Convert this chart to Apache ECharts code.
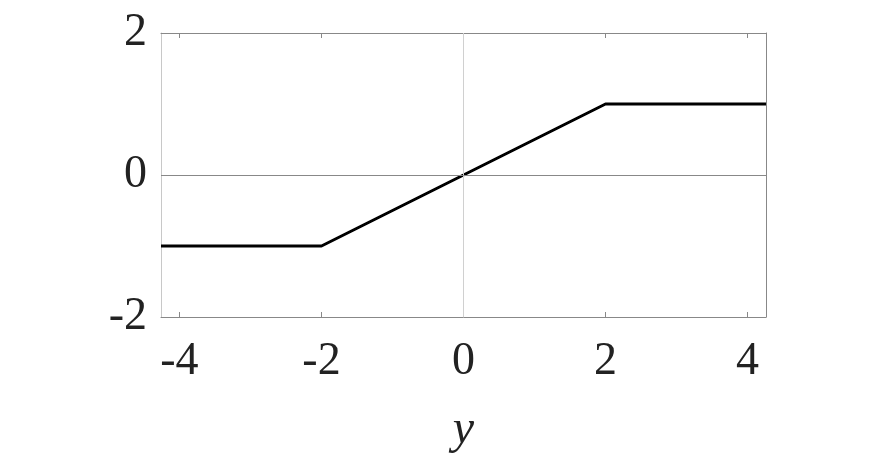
<!DOCTYPE html>
<html>
<head>
<meta charset="utf-8">
<script src="https://cdn.jsdelivr.net/npm/echarts@6/dist/echarts.min.js"></script>
<style>
  html, body { margin: 0; padding: 0; background: #fff; }
  #chart { width: 895px; height: 455px; }
</style>
</head>
<body>
<div id="chart"></div>
<script>
// saturation curve: flat at -1, linear between -2 and 2, flat at 1
var xs = [-4.26, -2, 2, 4.26];
var ys = [-1, -1, 1, 1];
var xTicks = [-4, -2, 0, 2, 4];
var yTicks = [-2, 0, 2];
var xLim = [-4.26, 4.26];
var yLim = [-2, 2];

var chart = echarts.init(document.getElementById('chart'));
var font = '"Liberation Serif", "DejaVu Serif", serif';

chart.setOption({
    animation: false,
    grid: { left: 161, top: 33, width: 605, height: 284, containLabel: false, outerBoundsMode: 'none' },
    xAxis: [{
        type: 'value', min: xLim[0], max: xLim[1], position: 'bottom',
        name: 'y', nameLocation: 'middle', nameGap: 89,
        nameTextStyle: { fontFamily: font, fontStyle: 'italic', fontSize: 48, color: '#222' },
        axisLine: { show: true, onZero: false, lineStyle: { color: '#888', width: 1 } },
        axisTick: { show: true, inside: true, length: 5, customValues: xTicks, lineStyle: { color: '#888' } },
        axisLabel: { customValues: xTicks, margin: 22, fontFamily: font, fontSize: 46, color: '#222',
            formatter: function (v) { return String(v); } },
        splitLine: { show: false }
    }, {
        type: 'value', min: xLim[0], max: xLim[1], position: 'top',
        axisLine: { show: true, onZero: false, lineStyle: { color: '#888', width: 1 } },
        axisTick: { show: true, inside: true, length: 5, customValues: xTicks, lineStyle: { color: '#888' } },
        axisLabel: { show: false },
        splitLine: { show: false }
    }],
    yAxis: [{
        type: 'value', min: yLim[0], max: yLim[1], position: 'left',
        axisLine: { show: true, onZero: false, lineStyle: { color: '#c8c8c8', width: 1 } },
        axisTick: { show: false },
        axisLabel: { customValues: yTicks, margin: 14, fontFamily: font, fontSize: 46, color: '#222',
            formatter: function (v) { return String(v); } },
        splitLine: { show: false }
    }, {
        type: 'value', min: yLim[0], max: yLim[1], position: 'right',
        axisLine: { show: true, onZero: false, lineStyle: { color: '#888', width: 1 } },
        axisTick: { show: false },
        axisLabel: { show: false },
        splitLine: { show: false }
    }],
    series: [{
        type: 'line',
        data: xs.map(function (x, i) { return [x, ys[i]]; }),
        symbol: 'none',
        lineStyle: { color: '#000', width: 3 },
        markLine: {
            silent: true, symbol: 'none', label: { show: false },
            data: [
                { xAxis: 0, lineStyle: { color: '#d0d0d0', width: 1, type: 'solid' } },
                { yAxis: 0, lineStyle: { color: '#888', width: 1, type: 'solid' } }
            ]
        },
        z: 3
    }]
});
</script>
</body>
</html>
